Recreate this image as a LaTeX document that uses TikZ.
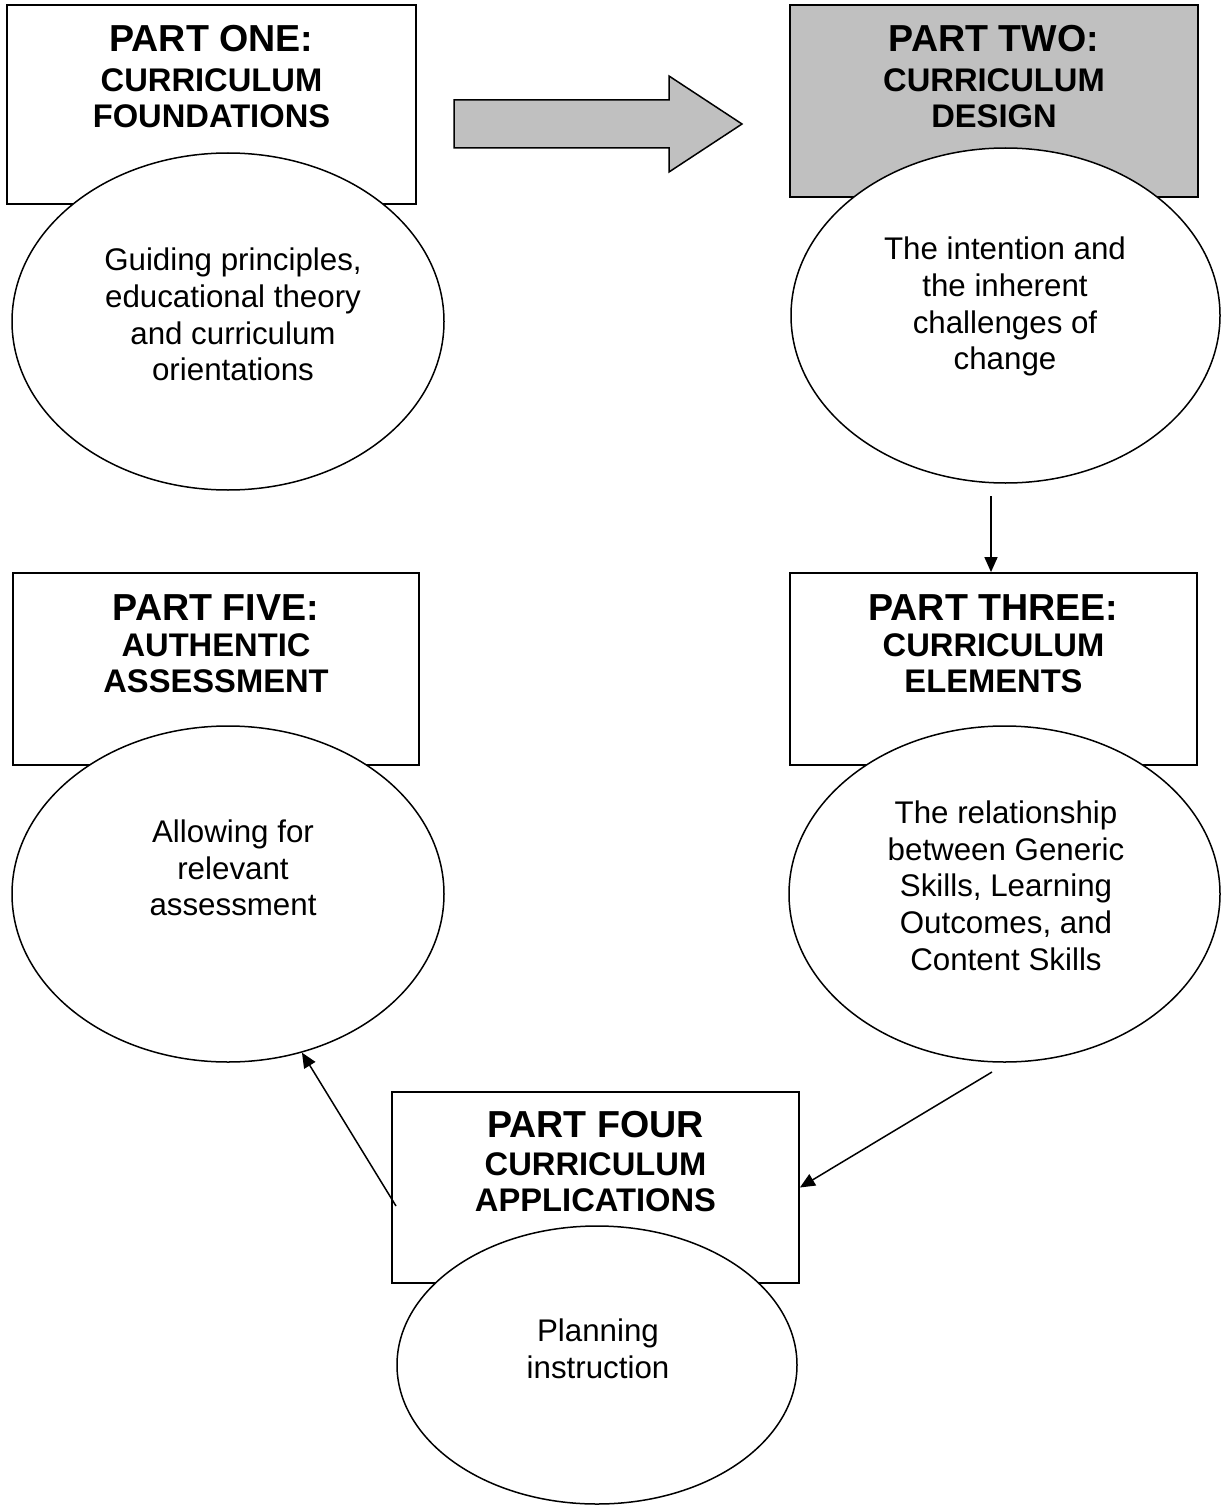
\documentclass[tikz,border=0pt]{standalone}
\usepackage{fontspec}
\setmainfont{Liberation Sans}
\usetikzlibrary{shapes.geometric,arrows.meta,calc}

\definecolor{panelgray}{HTML}{C0C0C0}

\tikzset{
  partbox/.style={draw, line width=1.8pt, rectangle, inner sep=0pt},
  topic/.style={draw, line width=1.5pt, ellipse, fill=white, inner sep=0pt},
  heading/.style={inner sep=0pt, anchor=base, font=\fontsize{37.6}{41}\selectfont\bfseries},
  subhead/.style={inner sep=0pt, anchor=north, align=center, font=\fontsize{32.7}{35.5}\selectfont\bfseries},
  bodytext/.style={inner sep=0pt, anchor=north, align=center, font=\fontsize{31.3}{36.7}\selectfont},
  link/.style={line width=1.5pt, -{Triangle[length=15pt,width=13pt]}},
  blockarrow/.style={draw, line width=1.5pt, fill=panelgray, line join=miter}
}

\begin{document}
\begin{tikzpicture}[x=1pt,y=-1pt]
  \useasboundingbox (0,0) rectangle (1222,1506);

  % part boxes
  \node[partbox, minimum width=409pt, minimum height=199pt] (b1) at (211.5,104.5) {};
  \node[partbox, fill=panelgray, minimum width=408pt, minimum height=192pt] (b2) at (994,101) {};
  \node[partbox, minimum width=407pt, minimum height=192pt] (b3) at (993.5,669) {};
  \node[partbox, minimum width=407pt, minimum height=191pt] (b4) at (595.5,1187.5) {};
  \node[partbox, minimum width=406pt, minimum height=192pt] (b5) at (216,669) {};

  % box titles
  \node[heading] (h1) at (211.5,52) {PART ONE:};
  \node[subhead] (s1) at (211.5,68.5) {CURRICULUM\\FOUNDATIONS};
  \node[heading] (h2) at (994,52) {PART TWO:};
  \node[subhead] (s2) at (994,68.5) {CURRICULUM\\DESIGN};
  \node[heading] (h3) at (993.5,620) {PART THREE:};
  \node[subhead] (s3) at (993.5,633.5) {CURRICULUM\\ELEMENTS};
  \node[heading] (h4) at (595.5,1137) {PART FOUR};
  \node[subhead] (s4) at (595.5,1152.5) {CURRICULUM\\APPLICATIONS};
  \node[heading] (h5) at (216,620) {PART FIVE:};
  \node[subhead] (s5) at (216,633.5) {AUTHENTIC\\ASSESSMENT};

  % topic ellipses
  \node[topic, minimum width=432pt, minimum height=337pt] (e1) at (228,321.5) {};
  \node[topic, minimum width=429pt, minimum height=335pt] (e2) at (1005.5,315.5) {};
  \node[topic, minimum width=431pt, minimum height=336pt] (e3) at (1004.5,894) {};
  \node[topic, minimum width=400pt, minimum height=278pt] (e4) at (597,1365) {};
  \node[topic, minimum width=432pt, minimum height=336pt] (e5) at (228,894) {};

  % topic texts
  \node[bodytext] (t1) at (233,248) {Guiding principles,\\educational theory\\and curriculum\\orientations};
  \node[bodytext] (t2) at (1005,237) {The intention and\\the inherent\\challenges of\\change};
  \node[bodytext] (t3) at (1006,800.5) {The relationship\\between Generic\\Skills, Learning\\Outcomes, and\\Content Skills};
  \node[bodytext] (t4) at (598,1319) {Planning\\instruction};
  \node[bodytext] (t5) at (233,819.5) {Allowing for\\relevant\\assessment};

  % block arrow from part one to part two
  \draw[blockarrow] (454,100) -- (669,100) -- (669,76) -- (742,124)
    -- (669,172) -- (669,148) -- (454,148) -- cycle;

  % connectors
  \coordinate (c23) at (991,496);
  \coordinate (c34) at (992,1072);
  \coordinate (c45) at (396,1206);
  \draw[link] (c23) -- (c23 |- b3.north);
  \draw[link] (c34) -- (b4.east);
  \draw[link] (c45) -- (e5.-65.3);
\end{tikzpicture}
\end{document}
